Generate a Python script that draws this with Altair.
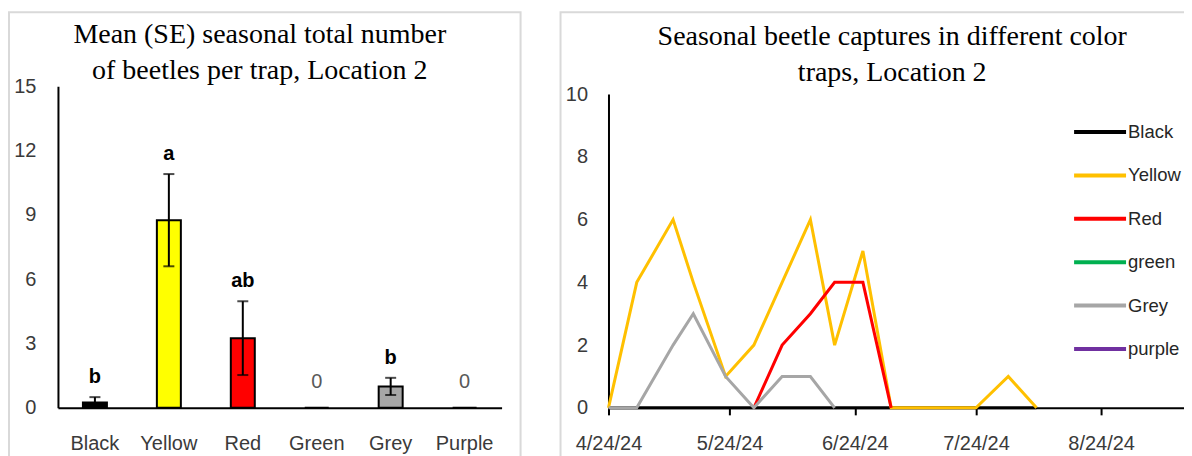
import altair as alt
import pandas as pd

# ---------------- left panel: mean (SE) per trap colour ----------------
bar_colors = ["Black", "Yellow", "Red", "Green", "Grey", "Purple"]
bar_means = [0.25, 8.75, 3.25, 0.0, 1.0, 0.0]
bar_se = [0.25, 2.15, 1.72, 0.0, 0.4, 0.0]
bar_fill = ["#000000", "#FFFF00", "#FF0000", "#FFFFFF", "#A6A6A6", "#FFFFFF"]
sig_letters = ["b", "a", "ab", "", "b", ""]
zero_labels = ["", "", "", "0", "", "0"]
left_y_ticks = [0, 3, 6, 9, 12, 15]
left_title = ["Mean (SE) seasonal total number", "of beetles per trap, Location 2"]

# ---------------- right panel: captures over the season ----------------
dates = ["2024-04-24", "2024-05-01", "2024-05-10", "2024-05-15", "2024-05-23",
         "2024-05-30", "2024-06-06", "2024-06-13", "2024-06-19", "2024-06-26",
         "2024-07-03", "2024-07-10", "2024-07-17", "2024-07-24", "2024-08-01",
         "2024-08-08"]
black_vals = [0, 0, 0, 0, 0, 0, 0, 0, 0, 0, 0, 0, 0, 0, 0, 0]
yellow_vals = [0, 4, 6, 4, 1, 2, 4, 6, 2, 5, 0, 0, 0, 0, 1, 0]
red_vals = [None, None, None, None, None, 0, 2, 3, 4, 4, 0, None, None, None, None, None]
green_vals = [None] * 16
grey_vals = [0, 0, 2, 3, 1, 0, 1, 1, 0, None, None, None, None, None, None, None]
purple_vals = [None] * 16
series_names = ["Black", "Yellow", "Red", "green", "Grey", "purple"]
series_colors = ["#000000", "#FFC000", "#FF0000", "#00B050", "#A6A6A6", "#7030A0"]
x_tick_dates = ["2024-04-24", "2024-05-24", "2024-06-24", "2024-07-24", "2024-08-24"]
x_domain_dates = ["2024-04-24", "2024-09-15"]
right_y_ticks = [0, 2, 4, 6, 8, 10]
right_title = ["Seasonal beetle captures in different color", "traps, Location 2"]

SANS = "Liberation Sans"
SERIF = "Liberation Serif"
LABEL_COLOR = "#3a3a3a"


def dt(s):
    t = pd.Timestamp(s)
    return alt.DateTime(year=t.year, month=t.month, date=t.day, utc=True)


bar_df = pd.DataFrame({
    "Color": bar_colors, "Mean": bar_means, "SE": bar_se,
    "Letter": sig_letters, "Zero": zero_labels,
})

rows = []
for name, vals in zip(series_names, [black_vals, yellow_vals, red_vals,
                                     green_vals, grey_vals, purple_vals]):
    for d, v in zip(dates, vals):
        if v is not None:
            rows.append({"date": d, "series": name, "value": v})
line_df = pd.DataFrame(rows, columns=["date", "series", "value"])

PANEL_H = 450

# ---------- left chart ----------
x_bar = alt.X(
    "Color:N", sort=bar_colors,
    scale=alt.Scale(domain=bar_colors, range=[49, 493], paddingInner=0, paddingOuter=0),
    axis=alt.Axis(title=None, ticks=False, tickSize=0, domainColor="black", domainWidth=2,
                  labelFont=SANS, labelFontSize=20, labelColor=LABEL_COLOR,
                  labelPadding=26, offset=-(PANEL_H - 396), labelAngle=0),
)
y_scale_left = alt.Scale(domain=[0, 15], range=[396, 74])
y_axis_left = alt.Axis(title=None, values=left_y_ticks, ticks=False, tickSize=0, grid=False,
                       domainColor="black", domainWidth=2, labelFont=SANS,
                       labelFontSize=20, labelColor=LABEL_COLOR, labelPadding=22,
                       offset=-49)

base = alt.Chart(bar_df)
bars = base.mark_bar(width=24, stroke="black", strokeWidth=2).encode(
    x=x_bar,
    y=alt.Y("Mean:Q", scale=y_scale_left, axis=y_axis_left),
    fill=alt.Fill("Color:N", scale=alt.Scale(domain=bar_colors, range=bar_fill), legend=None),
)
err = base.transform_filter("datum.SE > 0").transform_calculate(
    lo="datum.Mean - datum.SE", hi="datum.Mean + datum.SE")
err_rule = err.mark_rule(color="black", strokeWidth=2).encode(
    x=x_bar, y=alt.Y("lo:Q", scale=y_scale_left), y2="hi:Q")
cap_hi = err.mark_tick(color="black", thickness=2, size=11, orient="horizontal").encode(
    x=x_bar, y=alt.Y("hi:Q", scale=y_scale_left))
cap_lo = err.mark_tick(color="black", thickness=2, size=11, orient="horizontal").encode(
    x=x_bar, y=alt.Y("lo:Q", scale=y_scale_left))
letters = base.transform_calculate(top="datum.Mean + datum.SE").mark_text(
    font=SANS, fontSize=20, fontWeight="bold", color="black", dy=-20, baseline="middle"
).encode(x=x_bar, y=alt.Y("top:Q", scale=y_scale_left), text="Letter:N")
zeros = base.mark_text(font=SANS, fontSize=20, color="#595959", dy=-26, baseline="middle").encode(
    x=x_bar, y=alt.Y("Mean:Q", scale=y_scale_left), text="Zero:N")

left = alt.layer(bars, err_rule, cap_hi, cap_lo, letters, zeros).properties(
    width=512, height=PANEL_H,
    title=alt.Title(left_title, font=SERIF, fontSize=28, fontWeight="normal", color="black",
                    lineHeight=36, anchor="middle", frame="group", baseline="alphabetic",
                    offset=-95, dx=-5),
)

# ---------- right chart ----------
right = alt.Chart(line_df).mark_line(strokeWidth=3).encode(
    x=alt.X("date:T",
            scale=alt.Scale(type="utc", domain=[dt(s) for s in x_domain_dates], range=[48, 630]),
            axis=alt.Axis(title=None, values=[dt(s) for s in x_tick_dates], format="%-m/%-d/%y",
                          ticks=True, tickSize=7, tickWidth=2, tickColor="black",
                          domainColor="black", domainWidth=2, grid=False, labelFont=SANS,
                          labelFontSize=20, labelColor=LABEL_COLOR, labelPadding=19,
                          offset=-(PANEL_H - 396), labelAngle=0, labelFlush=False,
                          labelOverlap=False)),
    y=alt.Y("value:Q", scale=alt.Scale(domain=[0, 10], range=[396, 82]),
            axis=alt.Axis(title=None, values=right_y_ticks, ticks=False, tickSize=0, grid=False,
                          domainColor="black", domainWidth=2, labelFont=SANS, labelFontSize=20,
                          labelColor=LABEL_COLOR, labelPadding=21, offset=-48)),
    color=alt.Color("series:N", scale=alt.Scale(domain=series_names, range=series_colors),
                    legend=alt.Legend(title=None, orient="none", legendX=528, legendY=108,
                                      symbolType="M-2.6,0H2.6", symbolSize=400,
                                      symbolStrokeWidth=4, labelFont=SANS, labelFontSize=18.5,
                                      labelColor="#262626", labelOffset=16, rowPadding=21.4,
                                      padding=0, labelLimit=200)),
).properties(
    width=630, height=PANEL_H,
    title=alt.Title(right_title, font=SERIF, fontSize=28, fontWeight="normal", color="black",
                    lineHeight=36, anchor="middle", frame="group", baseline="alphabetic",
                    offset=-97, dx=17),
)

chart = alt.hconcat(left, right, spacing=38).resolve_scale(
    color="independent", fill="independent"
).resolve_legend(color="independent", fill="independent").properties(
    padding={"left": 0, "top": 3, "right": -7, "bottom": 0},
    background="white",
).configure_view(stroke="#D9D9D9", strokeWidth=2, fill="white")

chart.save("out.html", embed_options={"renderer": "svg", "actions": False})
